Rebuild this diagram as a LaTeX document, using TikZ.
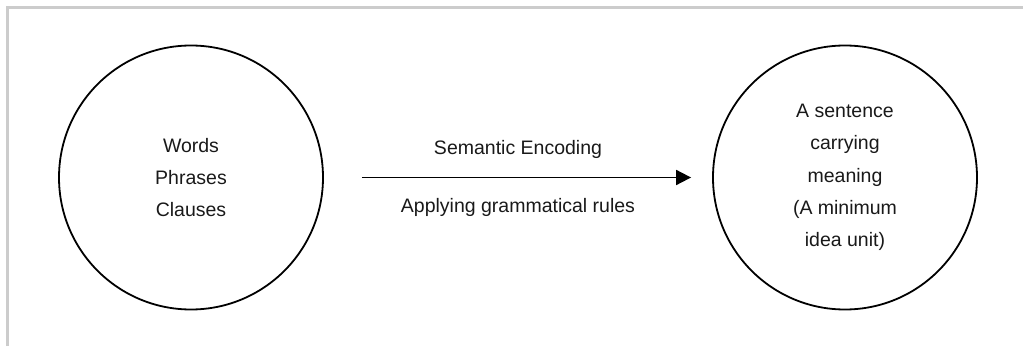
\documentclass[tikz,border=0pt]{standalone}
\usepackage{fontspec}
\setmainfont{Liberation Sans}
\usetikzlibrary{arrows.meta}
\begin{document}
\begin{tikzpicture}[x=1pt,y=1pt,
  bubble/.style={circle, draw=black, line width=1.8pt, minimum size=264pt, inner sep=0pt,
    align=center, font=\fontsize{19.5}{32.2}\selectfont, text=black!90},
  label/.style={font=\fontsize{19.5}{24}\selectfont, text=black!90, anchor=base, inner sep=0pt},
  frame/.style={draw=black!20, line width=3pt, line join=miter}]
\useasboundingbox (0,0) rectangle (1023,346);
\draw[frame] (7.5,0) -- (7.5,338.5) -- (1023,338.5);
\node[bubble] (L) at (191,168.5) {Words\\Phrases\\Clauses};
\node[bubble] (R) at (845,168.5) {A sentence\\carrying\\meaning\\(A minimum\\idea unit)};
\path (L.center) -- (R.center) coordinate[midway] (m);
\draw[line width=1.8pt, -{Triangle[length=15pt,width=15pt]}, shorten <=38pt, shorten >=21pt] (L) -- (R);
\node[label] (s) at ([yshift=23.5pt]m) {Semantic Encoding};
\node[label] (a) at ([yshift=-35pt]m) {Applying grammatical rules};
\end{tikzpicture}
\end{document}
